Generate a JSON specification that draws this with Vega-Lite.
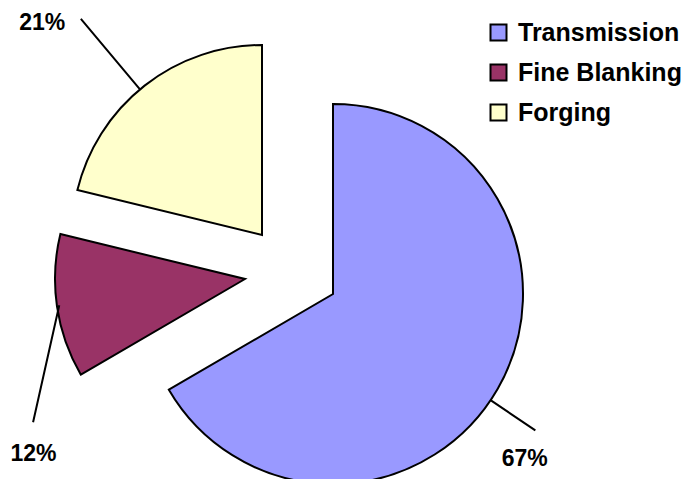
{
  "$schema": "https://vega.github.io/schema/vega-lite/v6.json",
  "width": 685,
  "height": 479,
  "autosize": "none",
  "padding": 0,
  "background": "white",
  "config": {"view": {"stroke": null}},
  "data": {"values": [
    {"category": "Transmission", "value": 66.6, "label": "67%", "order": 1},
    {"category": "Fine Blanking", "value": 12.2, "label": "12%", "order": 2},
    {"category": "Forging", "value": 21.2, "label": "21%", "order": 3}
  ]},
  "transform": [
    {"stack": "value", "groupby": [], "sort": [{"field": "order", "order": "ascending"}], "as": ["v0", "v1"]}
  ],
  "layer": [
    {
      "transform": [{"filter": "datum.category === 'Transmission'"}],
      "layer": [
        {
          "mark": {"type": "arc", "radius": 190, "stroke": "black", "strokeWidth": 2, "strokeJoin": "miter", "xOffset": -9.5, "yOffset": 54.5},
          "encoding": {
            "theta": {"field": "v0", "type": "quantitative", "scale": {"domain": [0, 100]}},
            "theta2": {"field": "v1"},
            "color": {"field": "category", "type": "nominal",
              "scale": {"domain": ["Transmission", "Fine Blanking", "Forging"], "range": ["#9999FF", "#993366", "#FFFFCC"]},
              "legend": {"orient": "none", "legendX": 486, "legendY": 20, "title": null, "symbolType": "square", "symbolSize": 256, "symbolStrokeColor": "black", "symbolStrokeWidth": 2, "labelFont": "Liberation Sans", "labelFontWeight": "bold", "labelFontSize": 25, "labelColor": "black", "labelLimit": 400, "rowPadding": 14, "labelOffset": 7, "padding": 0}}
          }
        },
        {
          "mark": {"type": "arc", "filled": false, "stroke": "black", "strokeWidth": 2, "radius": 244, "radius2": 190, "xOffset": -9.5, "yOffset": 54.5},
          "encoding": {
            "theta": {"datum": 34.44, "type": "quantitative", "scale": {"domain": [0, 100]}},
            "theta2": {"datum": 34.44}
          }
        },
        {
          "mark": {"type": "text", "radius": 253, "font": "Liberation Sans", "fontWeight": "bold", "fontSize": 23, "color": "black", "align": "center", "baseline": "middle", "xOffset": -9.5, "yOffset": 54.5},
          "encoding": {
            "theta": {"datum": 36.32, "type": "quantitative", "scale": {"domain": [0, 100]}},
            "text": {"field": "label"}
          }
        }
      ]
    },
    {
      "transform": [{"filter": "datum.category === 'Fine Blanking'"}],
      "layer": [
        {
          "mark": {"type": "arc", "radius": 190, "stroke": "black", "strokeWidth": 2, "strokeJoin": "miter", "xOffset": -97.5, "yOffset": 39.5},
          "encoding": {
            "theta": {"field": "v0", "type": "quantitative", "scale": {"domain": [0, 100]}},
            "theta2": {"field": "v1"},
            "color": {"field": "category", "type": "nominal"}
          }
        },
        {
          "mark": {"type": "arc", "filled": false, "stroke": "black", "strokeWidth": 2, "radius": 238, "radius2": 118, "xOffset": -257.5, "yOffset": -49.5},
          "encoding": {
            "theta": {"datum": 53.5, "type": "quantitative", "scale": {"domain": [0, 100]}},
            "theta2": {"datum": 53.5}
          }
        },
        {
          "mark": {"type": "text", "radius": 274.5, "font": "Liberation Sans", "fontWeight": "bold", "fontSize": 23, "color": "black", "align": "center", "baseline": "middle", "xOffset": -97.5, "yOffset": 39.5},
          "encoding": {
            "theta": {"datum": 64.0, "type": "quantitative", "scale": {"domain": [0, 100]}},
            "text": {"field": "label"}
          }
        }
      ]
    },
    {
      "transform": [{"filter": "datum.category === 'Forging'"}],
      "layer": [
        {
          "mark": {"type": "arc", "radius": 190, "stroke": "black", "strokeWidth": 2, "strokeJoin": "miter", "xOffset": -80.5, "yOffset": -4.5},
          "encoding": {
            "theta": {"field": "v0", "type": "quantitative", "scale": {"domain": [0, 100]}},
            "theta2": {"field": "v1"},
            "color": {"field": "category", "type": "nominal"}
          }
        },
        {
          "mark": {"type": "arc", "filled": false, "stroke": "black", "strokeWidth": 2, "radius": 282, "radius2": 190, "xOffset": -80.5, "yOffset": -4.5},
          "encoding": {
            "theta": {"datum": 88.9, "type": "quantitative", "scale": {"domain": [0, 100]}},
            "theta2": {"datum": 88.9}
          }
        },
        {
          "mark": {"type": "text", "radius": 305.2, "font": "Liberation Sans", "fontWeight": "bold", "fontSize": 23, "color": "black", "align": "center", "baseline": "middle", "xOffset": -80.5, "yOffset": -4.5},
          "encoding": {
            "theta": {"datum": 87.2, "type": "quantitative", "scale": {"domain": [0, 100]}},
            "text": {"field": "label"}
          }
        }
      ]
    }
  ]
}
